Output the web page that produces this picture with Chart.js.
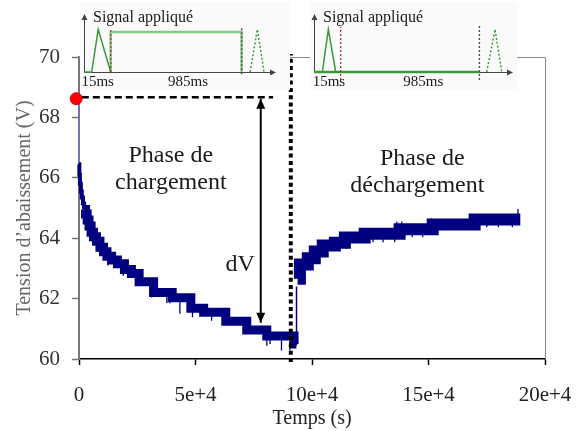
<!DOCTYPE html>
<html lang="fr">
<head>
<meta charset="UTF-8">
<title>Tension d'abaissement</title>
<script src="https://cdn.jsdelivr.net/npm/chart.js"></script>
<style>
  body { margin: 0; background: #fff; }
  #wrap { position: relative; width: 581px; height: 431px; }
  #wrap canvas { position: absolute; }
  #mainChart { left: 0; top: 0; }
  #inset1 { left: 80px; top: 2px; }
  #inset2 { left: 310px; top: 2px; }
</style>
</head>
<body>
<div id="wrap">
  <canvas id="mainChart" width="581" height="431"></canvas>
  <canvas id="inset1" width="210" height="88"></canvas>
  <canvas id="inset2" width="207" height="88"></canvas>
</div>

<script>
// --- données ---
// début de la charge (descente très raide, trait fin)
const tempsDebut = [0, 150, 400, 800, 1200, 1700, 2200];
const tensionDebut = [66.45, 66.1, 65.8, 65.55, 65.35, 65.15, 64.95];

// phase de chargement (temps en s, tension en V)
const tempsCharge = [2200, 2800, 3500, 4300, 5200, 6200, 7500, 9000, 10500, 12000, 14000, 16500, 19500,
  22500, 25800, 32000, 40000, 48000, 53500, 63000, 72000, 80600, 92300, 93300];
const tensionCharge = [64.95, 64.8, 64.6, 64.4, 64.2, 64.05, 63.9, 63.7, 63.55, 63.4, 63.28, 63.15, 62.96,
  62.83, 62.56, 62.2, 62.03, 61.68, 61.55, 61.25, 60.96, 60.76, 60.5, 60.5];

// saut au début de la décharge (trait fin)
const saut = [93350, 60.45, 62.4];

// phase de déchargement
const tempsDecharge = [93800, 94800, 98200, 101200, 104600, 109800, 114100, 122600, 137600, 151800, 169800, 189400];
const tensionDecharge = [62.66, 63.13, 63.34, 63.56, 63.76, 63.85, 64.02, 64.15, 64.3, 64.45, 64.62, 64.62];

// pics de bruit (haut / bas)
const picsTemps = [8150, 12400, 19000, 31200, 37700, 39000, 43300, 48700, 56900, 61900, 80600, 82000, 86900, 90500,
  101900, 111200, 114800, 126200, 130500, 135500, 136400, 138500, 143000, 147500, 151200, 170700, 175000, 180000,
  186000, 188400];
const picsHaut = [63.9, 63.45, 63.1, 62.5, 62.2, 62.2, 62.0, 61.7, 61.5, 61.5, 60.9, 60.9, 60.7, 60.6,
  63.5, 63.85, 64.0, 64.15, 64.15, 64.2, 64.55, 64.55, 64.35, 64.35, 64.66, 64.62, 64.62, 64.62, 64.62, 64.97];
const picsBas = [63.55, 63.1, 62.76, 62.04, 61.85, 61.85, 61.5, 61.38, 61.27, 61.21, 60.44, 60.5, 60.28, 60.28,
  63.2, 63.59, 63.65, 63.87, 63.87, 63.87, 64.2, 64.03, 64.03, 64.03, 64.3, 64.36, 64.36, 64.36, 64.36, 64.6];

// point de départ et chute initiale
const depart = [-1200, 68.62];
const chuteInitiale = [68.62, 66.45];

// repères : pointillé horizontal, flèche dV, séparation des phases
const repereHorizontal = [1200, 83300, 68.67];
const flecheDV = [78000, 68.62, 61.2];
const coupure = [90900, 59.9, 70.1];

// axes
const xTickValues = [0, 50000, 100000, 150000, 200000];
const xTickLabels = ['0', '5e+4', '10e+4', '15e+4', '20e+4'];
const yTickValues = [60, 62, 64, 66, 68, 70];

// textes posés dans le graphe
const textes = ['Phase de', 'chargement', 'Phase de', 'déchargement', 'dV'];
const textesT = [39400, 39400, 147300, 145200, 69150];
const textesV = [66.52, 65.64, 66.43, 65.53, 62.9];

// encarts "Signal appliqué" (abscisse arbitraire 0..100, amplitude relative)
const impulsion1X = [0, 4, 7.4, 13.9];
const impulsion1Y = [0, 0, 1, 0];
const palier1X = [13.9, 13.9, 82.1, 82.1];
const palier1Y = [0, 0.937, 0.937, 0];
const suivante1X = [86.5, 90.3, 93.75];
const suivante1Y = [0, 1, 0];
const rouge1 = [13.9, 0, 1.02];
const gris1 = [82.1, -0.05, 1.06];

const impulsion2X = [4.2, 7.2, 10.9];
const impulsion2Y = [0, 1, 0];
const base2X = [0, 83.1];
const base2Y = [0, 0];
const suivante2X = [86.8, 91, 94.3];
const suivante2Y = [0, 1, 0];
const rouge2 = [13.4, -0.19, 1.06];
const gris2 = [83.1, -0.19, 1.12];

const encartLabels = ['15ms', '985ms'];
const encart1LabelX = [7.1, 54.2];
const encart2LabelX = [7.5, 54.9];

// --- outils ---
const serif = "'Liberation Serif', 'Times New Roman', serif";
const pts = (xs, ys) => xs.map((t, i) => ({ x: t, y: ys[i] }));

function pics() {
  const out = [];
  picsTemps.forEach((t, i) => {
    out.push({ x: t, y: picsHaut[i] }, { x: t, y: picsBas[i] }, { x: t, y: null });
  });
  return out;
}

function pointe(ctx, x, y, dir) {
  // dir = 1 : pointe vers le bas, -1 : vers le haut
  ctx.beginPath();
  ctx.moveTo(x, y);
  ctx.lineTo(x - 4.5, y - dir * 10);
  ctx.lineTo(x + 4.5, y - dir * 10);
  ctx.closePath();
  ctx.fill();
}

// --- graphique principal ---
const decor = {
  id: 'decor',
  afterDatasetsDraw(chart) {
    const { ctx, chartArea: a, scales: { x, y } } = chart;
    ctx.save();
    // cadre haut et droite
    ctx.strokeStyle = '#8a8a8a';
    ctx.lineWidth = 1;
    ctx.beginPath();
    ctx.moveTo(a.left, Math.round(a.top) + 0.5);
    ctx.lineTo(Math.round(a.right) + 0.5, Math.round(a.top) + 0.5);
    ctx.lineTo(Math.round(a.right) + 0.5, a.bottom);
    ctx.stroke();
    // pointes de la flèche dV
    ctx.fillStyle = '#000';
    const fx = x.getPixelForValue(flecheDV[0]);
    pointe(ctx, fx, y.getPixelForValue(flecheDV[1]), -1);
    pointe(ctx, fx, y.getPixelForValue(flecheDV[2]), 1);
    // textes
    ctx.fillStyle = '#1a1a1a';
    ctx.font = '24px ' + serif;
    ctx.textAlign = 'center';
    ctx.textBaseline = 'alphabetic';
    textes.forEach((s, i) => {
      ctx.fillText(s, x.getPixelForValue(textesT[i]), y.getPixelForValue(textesV[i]));
    });
    ctx.restore();
  }
};

const bleu = '#000080';

new Chart(document.getElementById('mainChart'), {
  type: 'line',
  data: {
    datasets: [
      { data: [{ x: depart[0], y: depart[1] }], showLine: false, pointRadius: 6, pointBorderWidth: 1,
        pointBackgroundColor: '#ff0000', pointBorderColor: '#e00000', clip: false, order: 0 },
      { data: pts([repereHorizontal[0], repereHorizontal[1]], [repereHorizontal[2], repereHorizontal[2]]),
        borderColor: '#000', borderWidth: 2.5, borderDash: [7, 4], order: 1 },
      { data: pts([flecheDV[0], flecheDV[0]], [flecheDV[1], flecheDV[2]]),
        borderColor: '#000', borderWidth: 2, order: 1 },
      { data: pts([coupure[0], coupure[0]], [coupure[1], coupure[2]]),
        borderColor: '#000', borderWidth: 4, borderDash: [4, 3.3], borderCapStyle: 'butt', clip: false, order: 1 },
      { data: pts([0, 0], chuteInitiale), borderColor: '#7272c4', borderWidth: 2, clip: false, order: 4 },
      { data: pts(tempsDebut, tensionDebut), borderColor: bleu, borderWidth: 4, stepped: true, clip: false, order: 3 },
      { data: pts(tempsCharge, tensionCharge), borderColor: bleu, borderWidth: 9, stepped: true, order: 3 },
      { data: pts([saut[0], saut[0]], [saut[1], saut[2]]), borderColor: bleu, borderWidth: 1.5, order: 3 },
      { data: pts(tempsDecharge, tensionDecharge), borderColor: bleu, borderWidth: 12, stepped: true, order: 3 },
      { data: pics(), borderColor: bleu, borderWidth: 1.3, spanGaps: false, order: 3 }
    ]
  },
  options: {
    responsive: false,
    animation: false,
    events: [],
    layout: { padding: { top: 57, right: 36, left: 0, bottom: 0 } },
    plugins: { legend: { display: false }, tooltip: { enabled: false } },
    elements: { point: { radius: 0 }, line: { tension: 0, fill: false } },
    scales: {
      x: {
        type: 'linear', min: 0, max: 200000,
        afterBuildTicks: s => { s.ticks = xTickValues.map(v => ({ value: v })); },
        afterFit: s => { s.height = 72; s.paddingLeft = 0; s.paddingRight = 0; },
        ticks: { callback: (v, i) => xTickLabels[i], font: { family: serif, size: 21 }, color: '#222',
          padding: 18, maxRotation: 0, autoSkip: false },
        grid: { drawOnChartArea: false, tickLength: 6, tickColor: '#000', tickWidth: 1.5 },
        border: { color: '#000', width: 1.5 },
        title: { display: true, text: 'Temps (s)', font: { family: serif, size: 20 }, color: '#222',
          padding: { top: 0, bottom: 0 } }
      },
      y: {
        min: 60, max: 70,
        afterBuildTicks: s => { s.ticks = yTickValues.map(v => ({ value: v })); },
        afterFit: s => { s.width = 79; s.paddingTop = 0; s.paddingBottom = 0; },
        ticks: { font: { family: serif, size: 21 }, color: '#333', padding: 12 },
        grid: { drawOnChartArea: false, tickLength: 7, tickColor: '#777', tickWidth: 1.5 },
        border: { color: '#777', width: 2 },
        title: { display: true, text: 'Tension d’abaissement (V)', font: { family: serif, size: 20 }, color: '#666',
          padding: { top: 13, bottom: 0 } }
      }
    }
  },
  plugins: [decor]
});

// --- encarts ---
function decorEncart(labelX) {
  return {
    id: 'decorEncart',
    beforeDraw(chart) {
      const { ctx, width, height } = chart;
      ctx.save();
      ctx.fillStyle = '#fafafa';
      ctx.fillRect(0, 0, width, height);
      ctx.restore();
    },
    beforeDatasetsDraw(chart) {
      const { ctx, chartArea: a } = chart;
      ctx.save();
      ctx.strokeStyle = '#444';
      ctx.fillStyle = '#444';
      ctx.lineWidth = 1;
      const l = Math.round(a.left) + 0.5, b = Math.round(a.bottom) + 0.5;
      ctx.beginPath();
      ctx.moveTo(l, b); ctx.lineTo(a.right - 4, b);
      ctx.moveTo(l, b); ctx.lineTo(l, a.top + 4);
      ctx.stroke();
      ctx.beginPath();
      ctx.moveTo(a.right, b); ctx.lineTo(a.right - 6, b - 3); ctx.lineTo(a.right - 6, b + 3); ctx.closePath();
      ctx.moveTo(l, a.top); ctx.lineTo(l - 3, a.top + 6); ctx.lineTo(l + 3, a.top + 6); ctx.closePath();
      ctx.fill();
      ctx.restore();
    },
    afterDatasetsDraw(chart) {
      const { ctx, chartArea: a, scales: { x } } = chart;
      ctx.save();
      ctx.fillStyle = '#1a1a1a';
      ctx.textBaseline = 'alphabetic';
      ctx.font = '16px ' + serif;
      ctx.textAlign = 'left';
      ctx.fillText('Signal appliqué', a.left + 9, a.top + 8);
      ctx.font = '15px ' + serif;
      ctx.textAlign = 'center';
      encartLabels.forEach((s, i) => ctx.fillText(s, x.getPixelForValue(labelX[i]), a.bottom + 14));
      ctx.restore();
    }
  };
}

function encart(id, pad, datasets, labelX) {
  return new Chart(document.getElementById(id), {
    type: 'line',
    data: { datasets },
    options: {
      responsive: false,
      animation: false,
      events: [],
      layout: { padding: pad },
      plugins: { legend: { display: false }, tooltip: { enabled: false } },
      elements: { point: { radius: 0 }, line: { tension: 0, fill: false } },
      scales: {
        x: { type: 'linear', min: 0, max: 100, display: false },
        y: { min: 0, max: 1.36, display: false }
      }
    },
    plugins: [decorEncart(labelX)]
  });
}

const vert = '#3a9a3a';
const vertClair = '#86c986';

encart('inset1', { left: 4, right: 14, top: 12, bottom: 18 }, [
  { data: pts([rouge1[0], rouge1[0]], [rouge1[1], rouge1[2]]), borderColor: '#b02a2a', borderWidth: 1.2, borderDash: [2, 2], clip: false, order: 0 },
  { data: pts([gris1[0], gris1[0]], [gris1[1], gris1[2]]), borderColor: '#555', borderWidth: 1.5, borderDash: [2, 2], clip: false, order: 0 },
  { data: pts(impulsion1X, impulsion1Y), borderColor: vert, borderWidth: 1.5, clip: false, order: 1 },
  { data: pts(palier1X, palier1Y), borderColor: vertClair, borderWidth: 2.5, clip: false, order: 2 },
  { data: pts(suivante1X, suivante1Y), borderColor: vert, borderWidth: 1.5, borderDash: [2, 2], clip: false, order: 1 }
], encart1LabelX);

encart('inset2', { left: 4, right: 4, top: 12, bottom: 18 }, [
  { data: pts([rouge2[0], rouge2[0]], [rouge2[1], rouge2[2]]), borderColor: '#b02a2a', borderWidth: 1.2, borderDash: [2, 2], clip: false, order: 0 },
  { data: pts([gris2[0], gris2[0]], [gris2[1], gris2[2]]), borderColor: '#555', borderWidth: 1.5, borderDash: [2, 2], clip: false, order: 0 },
  { data: pts(impulsion2X, impulsion2Y), borderColor: vert, borderWidth: 1.5, clip: false, order: 1 },
  { data: pts(base2X, base2Y), borderColor: vert, borderWidth: 2.5, clip: false, order: 1 },
  { data: pts(suivante2X, suivante2Y), borderColor: vert, borderWidth: 1.5, borderDash: [2, 2], clip: false, order: 1 }
], encart2LabelX);
</script>
</body>
</html>
